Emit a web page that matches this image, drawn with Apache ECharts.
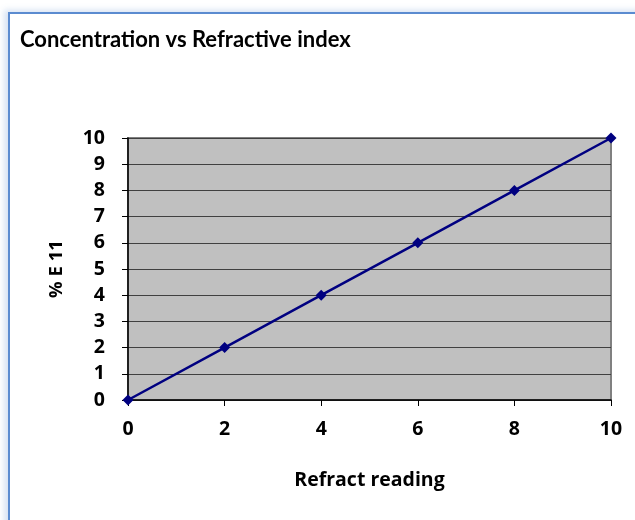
<!DOCTYPE html>
<html>
<head>
<meta charset="utf-8">
<script src="https://cdn.jsdelivr.net/npm/echarts@6/dist/echarts.min.js"></script>
<style>
  html, body { margin: 0; padding: 0; background: #fff; }
  #frame {
    position: absolute; left: 8px; top: 12px; width: 700px; height: 600px;
    border: 2px solid #5b8bd0; box-shadow: -4px -2px 6px rgba(91,139,208,0.25);
  }
  #chart { position: absolute; left: 0; top: 0; width: 635px; height: 520px; }
</style>
</head>
<body>
<div id="frame"></div>
<div id="chart"></div>
<script>
// data
const refractReading = [0, 2, 4, 6, 8, 10];
const percentE11 = [0, 2, 4, 6, 8, 10];

const titleFam = "Lato, 'Open Sans', sans-serif";
const textFam = "'Open Sans', Lato, sans-serif";

var chart = echarts.init(document.getElementById("chart"));
chart.setOption({
  animation: false,
  title: {
    text: "Concentration vs Refractive index",
    left: 20,
    top: 29,
    padding: 0,
    textStyle: { fontFamily: titleFam, fontSize: 22, fontWeight: "bold", color: "#000" },
  },
  grid: {
    left: 128, top: 138, right: 24, bottom: 120,
    show: true,
    backgroundColor: "#c0c0c0",
    borderColor: "#808080",
    borderWidth: 2,
  },
  xAxis: {
    type: "value",
    min: 0, max: 10, interval: 2,
    name: "Refract reading",
    nameLocation: "middle",
    nameGap: 70,
    nameTextStyle: { fontFamily: textFam, fontSize: 19.5, fontWeight: "bold", color: "#000" },
    axisLine: { show: true, lineStyle: { color: "#000", width: 1.5 } },
    axisTick: { show: true, length: 6, lineStyle: { color: "#000" } },
    axisLabel: { margin: 19, fontFamily: textFam, fontSize: 19.5, fontWeight: "bold", color: "#000" },
    splitLine: { show: false },
  },
  yAxis: {
    type: "value",
    min: 0, max: 10, interval: 1,
    name: "% E 11",
    nameLocation: "middle",
    nameGap: 62,
    nameTextStyle: { fontFamily: textFam, fontSize: 18.5, fontWeight: "bold", color: "#000" },
    axisLine: { show: true, lineStyle: { color: "#000", width: 1.5 } },
    axisTick: { show: true, length: 6, lineStyle: { color: "#000" } },
    axisLabel: { margin: 23, fontFamily: textFam, fontSize: 19.5, fontWeight: "bold", color: "#000" },
    splitLine: { show: true, lineStyle: { color: "#404040", width: 1 } },
  },
  series: [
    {
      type: "line",
      data: refractReading.map((x, i) => [x, percentE11[i]]),
      symbol: "diamond",
      symbolSize: 11,
      lineStyle: { color: "#000080", width: 2.5 },
      itemStyle: { color: "#000080" },
    },
  ],
});
</script>
</body>
</html>
